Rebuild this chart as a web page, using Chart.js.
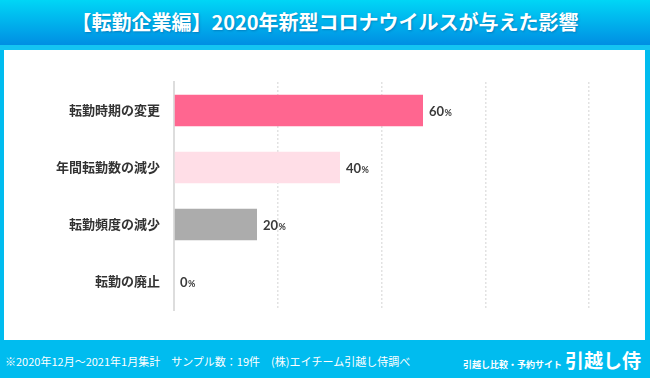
<!DOCTYPE html>
<html lang="ja">
<head>
<meta charset="utf-8">
<script src="https://cdn.jsdelivr.net/npm/chart.js@4.4.0/dist/chart.umd.min.js"></script>
<style>
    body { margin: 0; }
    #frame {
        position: relative;
        width: 650px;
        height: 378px;
        background: #00bcef;
        overflow: hidden;
        font-family: "Noto Sans CJK JP", sans-serif;
    }
    #header {
        position: absolute;
        left: 0; top: 0;
        width: 650px; height: 45px;
        background: linear-gradient(#00d6f6, #008ee3);
        border-bottom: 5px solid #14c4f2;
    }
    #title {
        position: absolute;
        left: 0; top: 9px;
        width: 650px;
        text-align: center;
        color: #fff;
        font-size: 20px;
        font-weight: bold;
        line-height: 26px;
        text-shadow: 1px 1px 2px rgba(0, 60, 120, 0.35);
    }
    #panel {
        position: absolute;
        left: 4px; top: 50px;
        width: 641px; height: 290px;
        background: #fff;
    }
    #note {
        position: absolute;
        left: 5px; top: 353px;
        color: #fff;
        font-size: 11px;
        line-height: 16px;
    }
    #brand {
        position: absolute;
        right: 9px; top: 346px;
        color: #fff;
        font-weight: bold;
        white-space: nowrap;
    }
    #brand .small { font-size: 9px; }
    #brand .big { font-size: 19px; margin-left: 3px; }
</style>
</head>
<body>
<div id="frame">
    <div id="header"></div>
    <div id="title">【転勤企業編】2020年新型コロナウイルスが与えた影響</div>
    <div id="panel"><canvas id="chart" width="641" height="290"></canvas></div>
    <div id="note">※2020年12月～2021年1月集計　サンプル数：19件　(株)エイチーム引越し侍調べ</div>
    <div id="brand"><span class="small">引越し比較・予約サイト</span><span class="big">引越し侍</span></div>
</div>
<script>
// Chart data
const categories = ['転勤時期の変更', '年間転勤数の減少', '転勤頻度の減少', '転勤の廃止'];
const percentValues = [60, 40, 20, 0];
const barColors = ['#ff6690', '#ffdee7', '#acacac', '#acacac'];
const xTicks = [0, 25, 50, 75, 100];

// Draw "60%" style labels after each bar
const valueLabels = {
    id: 'valueLabels',
    afterDatasetsDraw(chart) {
        const ctx = chart.ctx;
        const meta = chart.getDatasetMeta(0);
        ctx.save();
        ctx.fillStyle = '#3a3a3a';
        ctx.textBaseline = 'middle';
        meta.data.forEach((bar, i) => {
            const num = String(percentValues[i]);
            let x = bar.x + 6;
            const y = bar.y + 1;
            ctx.font = 'bold 13px Lato, sans-serif';
            ctx.fillText(num, x, y);
            x += ctx.measureText(num).width + 0.5;
            ctx.font = 'bold 9px Lato, sans-serif';
            ctx.fillText('%', x, y + 1.5);
        });
        ctx.restore();
    }
};

const ctx = document.getElementById('chart').getContext('2d');
new Chart(ctx, {
    type: 'bar',
    data: {
        labels: categories,
        datasets: [{
            data: percentValues,
            backgroundColor: barColors,
            borderWidth: 0,
            barPercentage: 0.55,
            categoryPercentage: 1,
        }],
    },
    options: {
        indexAxis: 'y',
        responsive: false,
        animation: false,
        layout: {
            padding: { top: 32, bottom: 30, right: 56, left: 0 },
        },
        plugins: {
            legend: { display: false },
            tooltip: { enabled: false },
        },
        scales: {
            x: {
                min: 0,
                max: 100,
                afterBuildTicks: (scale) => {
                    scale.ticks = xTicks.map(v => ({ value: v }));
                },
                ticks: { display: false },
                grid: {
                    color: (c) => c.tick && c.tick.value === 0 ? 'rgba(0,0,0,0)' : '#e2e2e2',
                    lineWidth: 1.5,
                    drawTicks: false,
                },
                border: { display: false, dash: [2, 2] },
                afterFit: (scale) => { scale.height = 0; },
            },
            y: {
                grid: { display: false, drawTicks: false },
                border: { display: true, color: '#dddddd', width: 2 },
                ticks: {
                    color: '#333',
                    padding: 14,
                    font: { family: '"Noto Sans CJK JP", sans-serif', size: 13, weight: 'bold' },
                },
                afterFit: (scale) => { scale.width = 170; },
            },
        },
    },
    plugins: [valueLabels],
});
</script>
</body>
</html>
